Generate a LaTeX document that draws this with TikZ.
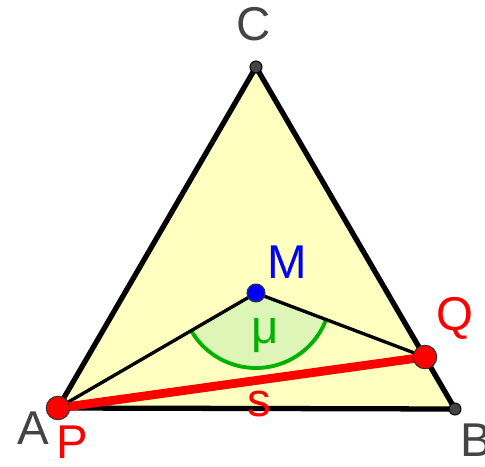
\documentclass[tikz,border=0pt]{standalone}
\usepackage{fontspec}
\setmainfont{Liberation Sans}
\usetikzlibrary{positioning,angles}
\definecolor{triyellow}{RGB}{255,255,192}
\definecolor{secgreen}{RGB}{222,245,184}
\definecolor{arcgreen}{RGB}{0,178,0}
\definecolor{ptgray}{RGB}{68,68,68}

\begin{document}
\begin{tikzpicture}[
    x=0.02cm, y=-0.02cm,
    lbl/.style={font=\fontsize{27}{27}\selectfont, inner sep=0pt},
    edge/.style={line width=3pt, line join=round},
    spoke/.style={line width=1.9pt},
    vertex/.style={circle, fill=ptgray, draw=black, line width=0.6pt, inner sep=0pt, minimum size=0.24cm},
    redpt/.style={circle, fill=red, draw=black!80, line width=0.6pt, inner sep=0pt, minimum size=0.47cm},
    bluept/.style={circle, fill=blue, draw=black!80, line width=0.6pt, inner sep=0pt, minimum size=0.36cm}
]
\useasboundingbox (0,0) rectangle (485,467);
\coordinate (A) at (58,408);
\coordinate (B) at (455,409);
\coordinate (C) at (256,67);
\coordinate (M) at (256,293);
\coordinate (Q) at (425,357);
% triangle and angle sector
\fill[triyellow] (A) -- (B) -- (C) -- cycle;
\pic[fill=secgreen, draw=arcgreen, line width=2.2pt, angle radius=1.5cm] {angle=A--M--Q};
\draw[edge] (A) -- (B) -- (C) -- cycle;
\draw[spoke] (A) -- (M) -- (Q);
\draw[red, line width=5pt] (A) -- (Q);
% points
\node[vertex] (b) at (B) {};
\node[vertex] (c) at (C) {};
\node[bluept] (m) at (M) {};
\node[redpt] (q) at (Q) {};
\node[redpt] (p) at (A) {};
% labels
\node[lbl, text=ptgray] (labC) at (254,24) {C};
\node[lbl, text=ptgray] (labA) at (33,428) {A};
\node[lbl, text=ptgray] (labB) at (476,440) {B};
\node[lbl, text=blue] (labM) at (287,262) {M};
\node[lbl, text=red] (labQ) at (455,318) {Q};
\node[lbl, text=red] (labP) at (72,442) {P};
\node[lbl, text=red] (labs) at (259,404) {s};
\node[lbl, text=arcgreen] (labmu) at (265,336) {μ};
\end{tikzpicture}
\end{document}
